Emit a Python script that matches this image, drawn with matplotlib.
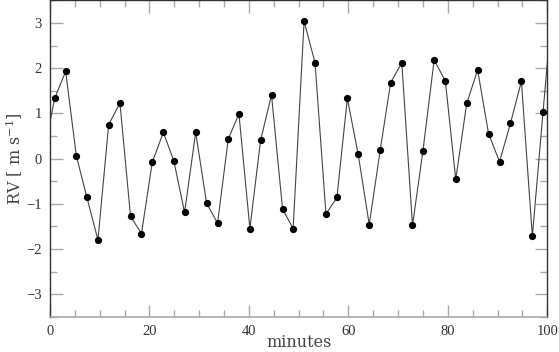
import matplotlib
matplotlib.use("Agg")
import matplotlib.pyplot as plt
from matplotlib.ticker import MultipleLocator

# time (minutes) and radial velocity (m/s)
minutes = [-1.26, 0.94, 3.15, 5.3, 7.4, 9.65, 11.8, 14.07, 16.2, 18.4, 20.57,
           22.8, 24.9, 27.07, 29.3, 31.5, 33.7, 35.85, 38.0, 40.2, 42.35,
           44.55, 46.77, 48.9, 51.1, 53.3, 55.5, 57.7, 59.8, 61.97, 64.2,
           66.4, 68.5, 70.75, 72.9, 75.0, 77.25, 79.5, 81.6, 83.8, 86.0,
           88.2, 90.4, 92.6, 94.8, 97.0, 99.15, 101.35]
rv = [0.11, 1.33, 1.93, 0.06, -0.85, -1.80, 0.75, 1.23, -1.28, -1.66, -0.08,
      0.58, -0.05, -1.19, 0.58, -0.99, -1.43, 0.43, 0.99, -1.55, 0.40,
      1.41, -1.12, -1.55, 3.04, 2.12, -1.23, -0.86, 1.33, 0.10, -1.46,
      0.18, 1.68, 2.12, -1.48, 0.17, 2.18, 1.72, -0.46, 1.22, 1.96,
      0.55, -0.07, 0.78, 1.71, -1.72, 1.03, 3.8]

plt.rcParams['font.family'] = ['Liberation Serif', 'DejaVu Serif']
plt.rcParams['mathtext.default'] = 'regular'

fig = plt.figure(figsize=(5.59, 3.52), dpi=100)
ax = fig.add_axes([0.0894, 0.1003, 0.8896, 0.8985])

# first and last points sit outside the x range, only their line segments show
ax.plot(minutes, rv, color='#444444', linewidth=0.8, zorder=2)
ax.plot(minutes[1:-1], rv[1:-1], 'o', color='black', markersize=4.2, zorder=3)

ax.set_xlim(0, 100)
ax.set_ylim(-3.5, 3.5)

ax.xaxis.set_major_locator(MultipleLocator(20))
ax.xaxis.set_minor_locator(MultipleLocator(5))
ax.yaxis.set_major_locator(MultipleLocator(1))
ax.yaxis.set_minor_locator(MultipleLocator(0.5))

ax.tick_params(which='both', direction='in', top=True, right=True,
               color='#aaaaaa', width=1.0, labelsize=10.5, labelcolor='#333333',
               pad=6)
ax.tick_params(which='major', length=9)
ax.tick_params(which='minor', length=5)

for side in ['left', 'top', 'right']:
    ax.spines[side].set_color('#333333')
    ax.spines[side].set_linewidth(1.0)
ax.spines['bottom'].set_color('#aaaaaa')
ax.spines['bottom'].set_linewidth(1.2)

lab_font = dict(family='DejaVu Serif', fontsize=11.5, color='#444444')
ax.set_xlabel('minutes', va='bottom', **lab_font)
ax.xaxis.set_label_coords(0.5, -0.108)
ax.set_ylabel('RV [ m s$^{-1}$]', va='center', **lab_font)
ax.yaxis.set_label_coords(-0.072, 0.5)

plt.savefig('out.png', dpi=100)
